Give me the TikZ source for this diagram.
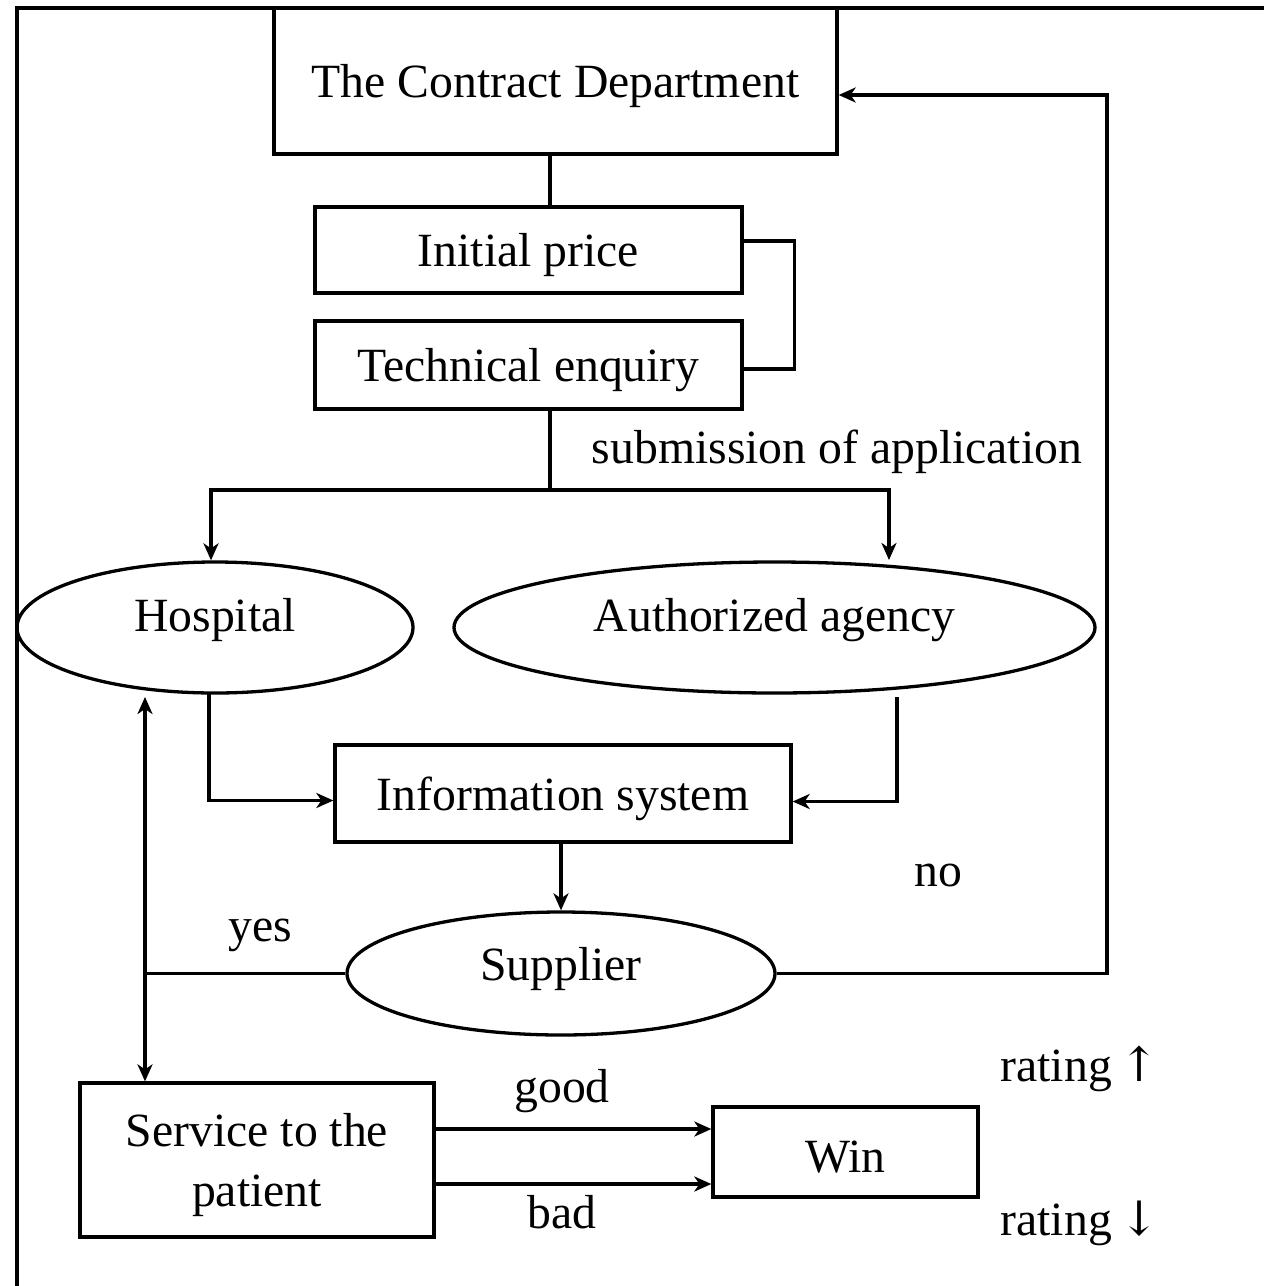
\documentclass[tikz,border=0pt]{standalone}
\usepackage{fontspec}
\setmainfont{Liberation Serif}
\newfontfamily\arrowfont{DejaVu Serif}
\usetikzlibrary{shapes.geometric,arrows.meta,calc}
\begin{document}
\begin{tikzpicture}[x=1pt,y=-1pt,line width=3.3pt,
  txt/.style={font=\fontsize{47.7}{60}\selectfont},
  lbl/.style={inner sep=0pt,align=center,txt},
  inner/.style={lbl,yshift=-5pt},
  box/.style={draw,rectangle,inner sep=0pt},
  oval/.style={draw,ellipse,inner sep=0pt},
  arr/.style={-{Stealth[length=17pt,width=15pt,inset=5pt]}}]
\useasboundingbox (0,0) rectangle (1264,1286);

% outer frame (top and left edges)
\draw (1264,8) -- (17,8) -- (17,1286);

% boxes
\node[box,minimum width=563pt,minimum height=146pt,label={[inner]center:The Contract Department}] (cd) at (555.5,81) {};
\node[box,minimum width=427pt,minimum height=86pt,label={[inner]center:Initial price}] (ip) at (528.5,250) {};
\node[box,minimum width=427pt,minimum height=88pt,label={[inner]center:Technical enquiry}] (te) at (528.5,365) {};
\node[box,minimum width=456pt,minimum height=97pt,label={[inner]center:Information system}] (info) at (563,793.5) {};
\node[box,minimum width=354pt,minimum height=154pt,label={[inner]center:Service to the\\patient}] (svc) at (257,1160) {};
\node[box,minimum width=265pt,minimum height=90pt,label={[inner]center:Win}] (win) at (845.5,1152) {};

% ellipses
\node[oval,minimum width=396pt,minimum height=131pt,label={[lbl,yshift=7pt]center:Hospital}] (hosp) at (215,627.5) {};
\node[oval,minimum width=641pt,minimum height=131pt,label={[lbl,yshift=7pt]center:Authorized agency}] (auth) at (774.5,627.5) {};
\node[oval,minimum width=428pt,minimum height=123pt,label={[lbl,yshift=4pt]center:Supplier}] (sup) at (561,973.5) {};

% junction points
\coordinate (trunk) at (550,490);
\coordinate (hospin) at (211,490);
\coordinate (authin) at (889,560);
\coordinate (hospout) at (209,693);
\coordinate (authout) at (897,697);
\coordinate (yesj) at (145,973.5);
\coordinate (upin) at (145,697);
\coordinate (noj) at (1107,973.5);

% top chain
\draw (cd.south -| trunk) -- (ip.north -| trunk);
\draw ($(ip.east)+(0,-9)$) -- ++(51,0) |- ($(te.east)+(0,4)$);
\draw (te.south -| trunk) -- (trunk);
\draw[arr] (trunk) -| (hospin |- hosp.north);
\draw[arr] (trunk) -| (authin);

% into the information system
\draw[arr] (hospout) |- ($(info.west)+(0,7)$);
\draw[arr] (authout) |- ($(info.east)+(0,8)$);
\draw[arr] (info.south -| sup.north) -- (sup.north);

% supplier outcomes
\draw (sup.west) -- (yesj);
\draw[arr] (yesj) -- (upin);
\draw[arr] (yesj) -- (yesj |- svc.north);
\draw[arr] (sup.east) -- (noj) |- ($(cd.east)+(0,14)$);

% service result
\draw[arr] ($(svc.east)+(0,-31)$) -- ($(win.west)+(0,-23)$);
\draw[arr] ($(svc.east)+(0,24)$) -- ($(win.west)+(0,32)$);

% labels
\node[lbl] (lsub) at (837,452) {submission of application};
\node[lbl] (lyes) at (260,935) {yes};
\node[lbl] (lno) at (938,875) {no};
\node[lbl] (lgood) at (562,1091) {good};
\node[lbl] (lbad) at (562,1212) {bad};
\node[lbl,anchor=west] (lup) at (999,1069) {rating\,{\arrowfont ↑}};
\node[lbl,anchor=west] (ldown) at (999,1223) {rating\,{\arrowfont ↓}};
\end{tikzpicture}
\end{document}
